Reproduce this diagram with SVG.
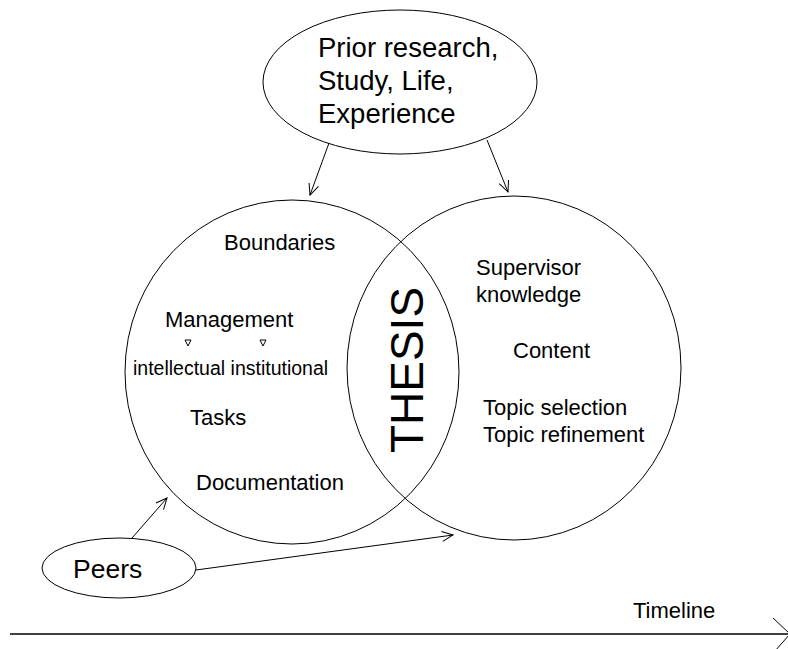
<svg xmlns="http://www.w3.org/2000/svg" width="788" height="649" viewBox="0 0 788 649">
<style>
.shape{fill:none;stroke:#000;stroke-width:1}
.t{font-family:"Liberation Sans",Arial,sans-serif;fill:#000}
.c{stroke:#000;stroke-width:1;fill:none}
</style>
<defs>
<marker id="ah" markerWidth="14" markerHeight="14" refX="12" refY="6" orient="auto" markerUnits="userSpaceOnUse">
<path d="M1,1 L12,6 L1,11" fill="none" stroke="#000" stroke-width="1"/>
</marker>
</defs>
<rect width="788" height="649" fill="#fff"/>
<g id="left-circle">
<ellipse class="shape" cx="292" cy="372" rx="167" ry="172"/>
<text class="t" x="224" y="250" font-size="22">Boundaries</text>
<text class="t" x="165" y="327" font-size="22">Management</text>
<polygon class="shape" points="185,340 191,340 188,346"/>
<polygon class="shape" points="260,340 266,340 263,346"/>
<text class="t" x="133" y="375" font-size="19.5">intellectual institutional</text>
<text class="t" x="190" y="425" font-size="22">Tasks</text>
<text class="t" x="196" y="490" font-size="22">Documentation</text>
</g>
<g id="right-circle">
<ellipse class="shape" cx="514" cy="368" rx="167" ry="172"/>
<text class="t" x="476" y="275" font-size="22">Supervisor</text>
<text class="t" x="476" y="302" font-size="22">knowledge</text>
<text class="t" x="513" y="358" font-size="22">Content</text>
<text class="t" x="483" y="415" font-size="22">Topic selection</text>
<text class="t" x="483" y="442" font-size="22">Topic refinement</text>
</g>
<g id="thesis">
<text class="t" font-size="46" text-anchor="middle" transform="translate(423,370) rotate(-90)">THESIS</text>
</g>
<g id="prior">
<ellipse class="shape" cx="400" cy="82" rx="137" ry="72"/>
<text class="t" x="318" y="57" font-size="27.5">Prior research,</text>
<text class="t" x="318" y="90" font-size="27.5">Study, Life,</text>
<text class="t" x="318" y="123" font-size="27.5">Experience</text>
</g>
<g id="peers">
<ellipse class="shape" cx="119" cy="568" rx="77" ry="30"/>
<text class="t" x="73" y="578" font-size="26.5">Peers</text>
</g>
<g id="timeline">
<line x1="10" y1="634" x2="788" y2="634" stroke="#000" stroke-width="1.6"/>
<path class="c" d="M773,618 L790,634 L775,651"/>
<text class="t" x="633" y="618" font-size="22">Timeline</text>
</g>
<g id="connectors">
<line class="c" x1="329" y1="143" x2="310" y2="195" marker-end="url(#ah)"/>
<line class="c" x1="487" y1="140" x2="508" y2="192" marker-end="url(#ah)"/>
<line class="c" x1="132" y1="538" x2="167" y2="498" marker-end="url(#ah)"/>
<line class="c" x1="196" y1="570" x2="453" y2="535" marker-end="url(#ah)"/>
</g>
</svg>
